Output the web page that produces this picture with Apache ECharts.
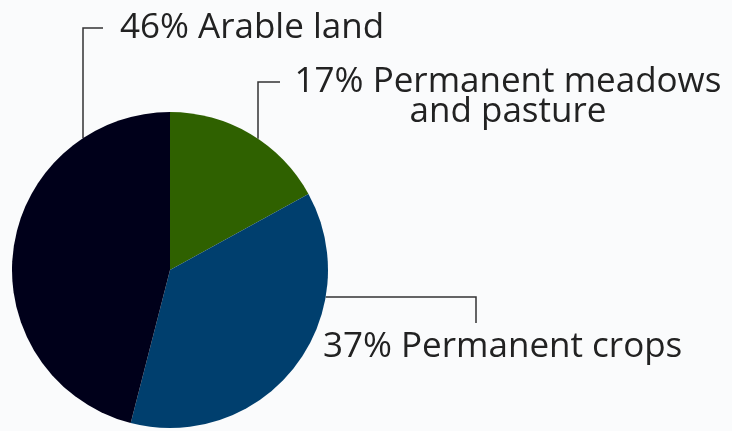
<!DOCTYPE html>
<html>
<head>
<meta charset="utf-8">
<script src="https://cdn.jsdelivr.net/npm/echarts@6/dist/echarts.min.js"></script>
<style>
html,body{margin:0;padding:0;background:#fafbfc;}
#chart{width:732px;height:431px;}
</style>
</head>
<body>
<div id="chart"></div>
<script>
// Data (clockwise from 12 o'clock)
const categories = ["Permanent meadows\nand pasture", "Permanent crops", "Arable land"];
const values = [17, 37, 46];
const colors = ["#2f6100", "#003f6e", "#00001a"];

const CX = 170, CY = 270, R = 158;
function edgeYTop(x){ return CY - Math.sqrt(R*R - (x-CX)*(x-CX)); }
function edgeXRight(y){ return CX + Math.sqrt(R*R - (y-CY)*(y-CY)); }

// label anchors and leader lines (layout only)
const labelSpec = [
  { x: 508, y: 97, align: 'center', line: () => [[258, edgeYTop(258)], [258, 82], [280, 82]] },
  { x: 323, y: 347, align: 'left', line: () => [[edgeXRight(297), 297], [476, 297], [476, 323]] },
  { x: 120, y: 28, align: 'left', line: () => [[83, edgeYTop(83)], [83, 28], [103, 28]] }
];

const chart = echarts.init(document.getElementById('chart'), null, {renderer: 'canvas'});
chart.setOption({
  backgroundColor: '#fafbfc',
  animation: false,
  series: [{
    type: 'pie',
    center: [CX, CY],
    radius: R,
    startAngle: 90,
    clockwise: true,
    avoidLabelOverlap: false,
    silent: true,
    data: categories.map((c, i) => ({ name: c, value: values[i], itemStyle: { color: colors[i] } })),
    itemStyle: { borderWidth: 0 },
    label: {
      show: true,
      position: 'outside',
      formatter: p => p.value + '% ' + p.name,
      fontFamily: 'Open Sans',
      fontSize: 35,
      lineHeight: 30,
      color: '#222'
    },
    labelLine: {
      show: true,
      lineStyle: { color: '#333', width: 1.5 }
    },
    labelLayout: function (params) {
      const s = labelSpec[params.dataIndex];
      return {
        x: s.x,
        y: s.y,
        align: s.align,
        verticalAlign: 'middle',
        labelLinePoints: s.line()
      };
    }
  }]
});
</script>
</body>
</html>
